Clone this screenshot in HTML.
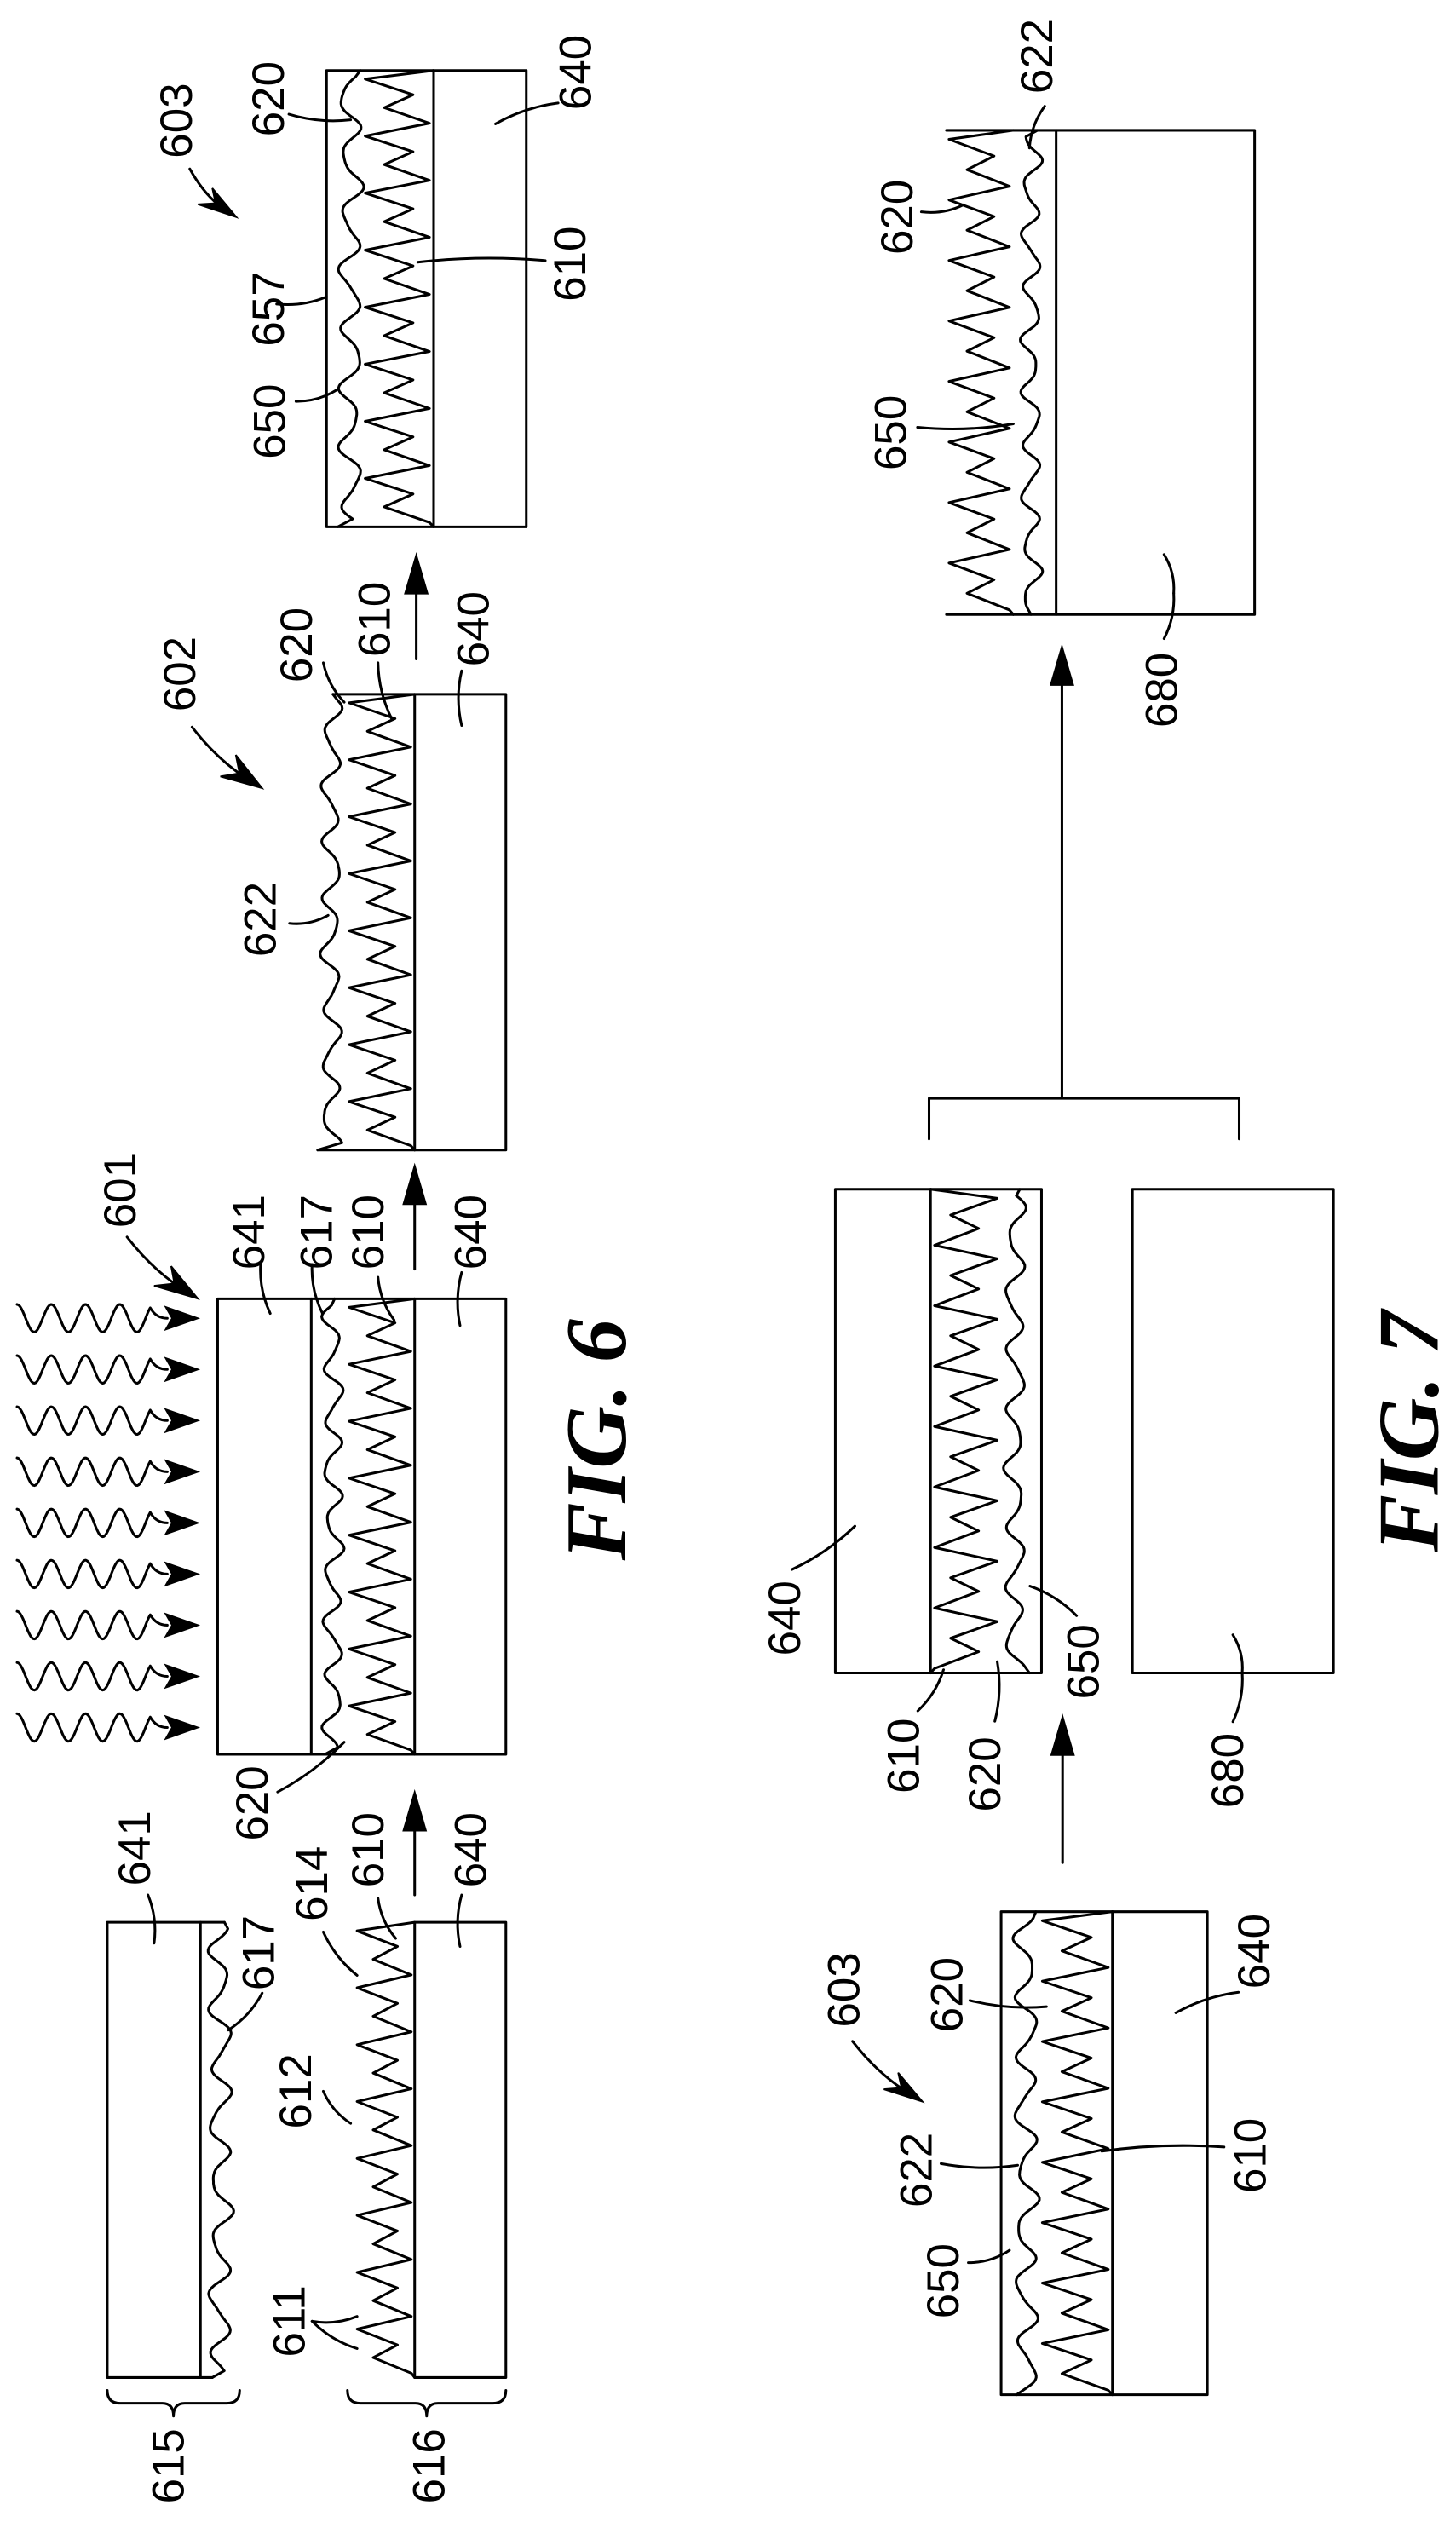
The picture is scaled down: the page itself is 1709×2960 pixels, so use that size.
<!DOCTYPE html>
<html><head><meta charset="utf-8">
<style>
html,body{margin:0;padding:0;background:#fff;}
svg{display:block;}
text{font-family:"Liberation Sans",sans-serif;font-size:28px;fill:#000;}
.fig{font-family:"Liberation Serif",serif;font-weight:bold;font-style:italic;font-size:54px;}
</style></head>
<body>
<svg id="s" xmlns="http://www.w3.org/2000/svg" width="1709" height="2960" viewBox="0 0 905.2 1567.8">
<rect x="0" y="0" width="905.2" height="1567.8" fill="#fff"/>
<g id="g" fill="none" stroke="#000" stroke-width="1.6" stroke-linejoin="round" stroke-linecap="round"></g>
<g id="h" fill="#000" stroke="#000" stroke-width="1"></g>
<g text-anchor="middle" dominant-baseline="central">
<text transform="translate(105,1533) rotate(-90)">615</text>
<text transform="translate(267,1533) rotate(-90)">616</text>
<text transform="translate(84,1149) rotate(-90)">641</text>
<text transform="translate(161,1214) rotate(-90)">617</text>
<text transform="translate(194,1171) rotate(-90)">614</text>
<text transform="translate(229,1150) rotate(-90)">610</text>
<text transform="translate(293,1150) rotate(-90)">640</text>
<text transform="translate(184,1300) rotate(-90)">612</text>
<text transform="translate(180,1443) rotate(-90)">611</text>
<text transform="translate(157,1121) rotate(-90)">620</text>
<text transform="translate(75,740) rotate(-90)">601</text>
<text transform="translate(155,766) rotate(-90)">641</text>
<text transform="translate(197,766) rotate(-90)">617</text>
<text transform="translate(229,766) rotate(-90)">610</text>
<text transform="translate(293,766) rotate(-90)">640</text>
<text transform="translate(112,419) rotate(-90)">602</text>
<text transform="translate(184.5,401) rotate(-90)">620</text>
<text transform="translate(233,385) rotate(-90)">610</text>
<text transform="translate(294.5,391) rotate(-90)">640</text>
<text transform="translate(162,571.5) rotate(-90)">622</text>
<text transform="translate(110,75) rotate(-90)">603</text>
<text transform="translate(167,61.5) rotate(-90)">620</text>
<text transform="translate(358,45) rotate(-90)">640</text>
<text transform="translate(354.5,164) rotate(-90)">610</text>
<text transform="translate(167,192) rotate(-90)">657</text>
<text transform="translate(168,262) rotate(-90)">650</text>
<text class="fig" transform="translate(371,895) rotate(-90)">FIG. 6</text>
<text transform="translate(645,35) rotate(-90)">622</text>
<text transform="translate(558,135) rotate(-90)">620</text>
<text transform="translate(554,269) rotate(-90)">650</text>
<text transform="translate(722.5,429) rotate(-90)">680</text>
<text transform="translate(488,1006) rotate(-90)">640</text>
<text transform="translate(562,1091.5) rotate(-90)">610</text>
<text transform="translate(612.6,1103) rotate(-90)">620</text>
<text transform="translate(673.7,1033) rotate(-90)">650</text>
<text transform="translate(763.6,1100.7) rotate(-90)">680</text>
<text transform="translate(525,1237) rotate(-90)">603</text>
<text transform="translate(589,1240) rotate(-90)">620</text>
<text transform="translate(780,1213) rotate(-90)">640</text>
<text transform="translate(570,1349) rotate(-90)">622</text>
<text transform="translate(777.6,1340) rotate(-90)">610</text>
<text transform="translate(586.5,1418) rotate(-90)">650</text>
<text class="fig" transform="translate(876,890) rotate(-90)">FIG. 7</text>
</g>
</svg>
<script>
var ns="http://www.w3.org/2000/svg";
var G=document.getElementById('g'),H=document.getElementById('h');
function P(d){var p=document.createElementNS(ns,'path');p.setAttribute('d',d);G.appendChild(p);}
function F(d){var p=document.createElementNS(ns,'path');p.setAttribute('d',d);H.appendChild(p);}
function zig(xl,xt,y0,y1,n){var d='M'+xl+','+y0;var p=(y1-y0)/n;
 for(var i=0;i<n;i++){var far=(i%2==0)?1:0.72;var tx=xl+(xt-xl)*far;d+=' L'+tx.toFixed(1)+','+(y0+p*(i+0.3)).toFixed(1);
  var vx=xl+(xt-xl)*((i%2==0)?0.3:0.06);d+=' L'+vx.toFixed(1)+','+(y0+p*(i+0.85)).toFixed(1);}
 d+=' L'+xl+','+y1;P(d);}
function wave(xc,a,y0,y1,per,ph,xs,xe){var d='M'+xs+','+y0;
 for(var y=y0+4;y<y1-4;y+=1.2){var x=xc+a*(0.85*Math.sin(2*Math.PI*y/per+ph)+0.2*Math.sin(2*Math.PI*y/(per*0.53)+ph*2.3)+0.15*Math.sin(2*Math.PI*y/(per*2.7)+ph));d+=' L'+x.toFixed(1)+','+y.toFixed(1);}
 d+=' L'+xe+','+y1;P(d);}
function up(x,y0,ty){P('M'+x+','+y0+' L'+x+','+(ty+18));F('M'+x+','+ty+' L'+(x-7)+','+(ty+24)+' L'+(x+7)+','+(ty+24)+'Z');}
function L(x1,y1,x2,y2,c){c=c||4;var mx=(x1+x2)/2,my=(y1+y2)/2,dx=x2-x1,dy=y2-y1,l=Math.sqrt(dx*dx+dy*dy)||1;
 P('M'+x1+','+y1+' Q'+(mx-dy/l*c).toFixed(1)+','+(my+dx/l*c).toFixed(1)+' '+x2+','+y2);}
function curArrow(sx,sy,tx,ty,c1x,c1y,c2x,c2y){P('M'+sx+','+sy+' Q'+((sx+tx)/2-4)+','+((sy+ty)/2+4)+' '+((tx*0.8+c1x*0.1+c2x*0.1))+','+((ty*0.8+c1y*0.1+c2y*0.1)));
 F('M'+tx+','+ty+' L'+c1x+','+c1y+' L'+((tx+c1x+c2x)/3)+','+((ty+c1y+c2y)/3)+' L'+c2x+','+c2y+'Z');}
function brace(x0,x1,y0,ym,yt){var xm=(x0+x1)/2;
 P('M'+x0+','+y0+' Q'+x0+','+ym+' '+(x0+8)+','+ym+' L'+(xm-7)+','+ym+' Q'+xm+','+ym+' '+xm+','+yt+' Q'+xm+','+ym+' '+(xm+7)+','+ym+' L'+(x1-8)+','+ym+' Q'+x1+','+ym+' '+x1+','+y0);}

P('M139.5,1195 L66.7,1195 L66.7,1478 L132,1478');P('M124.6,1195 L124.6,1478');
wave(137,7,1195,1478,36,0.5,139.5,132);
brace(66.7,149,1486,1494,1502);
P('M257.8,1195 L314.5,1195 L314.5,1478 L257.8,1478 Z');zig(257.8,222,1195,1478,16);
brace(216,314.5,1486,1494,1502);
up(257.8,1178,1114);
P('M135.3,807.4 L314.5,807.4 L314.5,1090.6 L135.3,1090.6 Z');P('M193.5,807.4 L193.5,1090.6');P('M257.8,807.4 L257.8,1090.6');
wave(207,6,807.4,1090.6,32,1.2,208,202);zig(257.8,217,807.4,1090.6,16);
for(var i=0;i<9;i++){var yc=819.5+31.8*i;var d='M10.6,'+(yc-8.6).toFixed(1);
 for(var x=11;x<=94;x+=0.8){d+=' L'+x.toFixed(1)+','+(yc-8.6*Math.cos(2*Math.PI*(x-10.6)/21.3)).toFixed(1);}
 d+=' Q97,'+yc+' 104,'+yc;P(d);F('M123,'+yc+' L103,'+(yc-7)+' L107,'+yc+' L103,'+(yc+7)+'Z');}
curArrow(79,769,123,807.3,95.8,799.3,106.4,787.1);
up(257.8,789,724.6);
P('M207,431.6 L314.5,431.6 L314.5,714.9 L197.5,714.9');P('M257.8,431.6 L257.8,714.9');
wave(206,6,431.6,714.9,34,2.1,207,197.5);zig(257.8,217,431.6,714.9,16);
curArrow(119.4,452,163,490,137,482.7,146.6,469.3);
up(258.8,409.7,345);
P('M203,43.8 L327.2,43.8 L327.2,327.5 L203,327.5 Z');P('M269.6,43.8 L269.6,327.5');
wave(218,7,43.8,327.5,36,0.3,224,210);zig(269.6,227,43.8,327.5,16);
curArrow(118,105,147,135,123,127,132,117);
P('M588.4,81 L780,81 L780,382 L588.4,382');P('M656.6,81 L656.6,382');
zig(630,590,81,382,16);wave(641,6,81,382,32,0.9,645,641);
up(660.2,682.8,401.8);
P('M577.6,708 L577.6,682.8 L770.4,682.8 L770.4,708');
P('M519.3,739.3 L647.5,739.3 L647.5,1040 L519.3,1040 Z');P('M578.5,739.3 L578.5,1040');
zig(578.5,620,739.3,1040,16);wave(631,6,739.3,1040,36,2.5,634,640);
P('M704,739.3 L829,739.3 L829,1040 L704,1040 Z');
up(660.6,1158,1067);
P('M622.4,1188.4 L750.6,1188.4 L750.6,1488.7 L622.4,1488.7 Z');P('M691.6,1188.4 L691.6,1488.7');
wave(638,7,1188.4,1488.7,36,1.7,644,632);zig(691.6,648,1188.4,1488.7,16);
curArrow(530,1269,573.5,1306.5,549.5,1298.8,558.4,1288.5);
var ls=[[95.8,1208,92,1178],[142,1262,163,1239],[201,1201,222,1228],[235,1180,246,1205],[287,1178,286,1210],[201,1300,218,1320],[194,1443,222,1460],[194,1443,222,1440],[172.6,1114,214,1083],
[162,786,168,816.5],[194,786,200.5,816.5],[235,794,245,820.6],[287,791,286,824],
[201,412,214,436.5],[235,412,243.6,447],[287,417,287,451],[180,574,204,569],
[179.6,71,218,74.5],[347,64,308,77],[339,162,259.7,163],[172,189,203,184.5],[184,249.5,210,242],
[649.5,66,640,92],[572.8,131.7,599,127.3],[570.4,265.6,630,263.5],[723.7,397,729.7,368.8],[729.7,368.8,723.7,344.7],
[492.3,975.7,531.5,948.7],[570.6,1063.6,586.6,1038],[618.5,1070,620,1033],[669.3,1004.4,640.3,986],[766.5,1070.3,772.3,1040],[772.3,1040,766.5,1016.3],
[603,1243.6,650.6,1247.4],[770,1238.5,731,1251.3],[585,1345,632.7,1346],[761,1334.7,685,1337.3],[602,1406.6,627.6,1398.9]];
ls.forEach(function(a){L(a[0],a[1],a[2],a[3]);});
</script>
</body></html>
